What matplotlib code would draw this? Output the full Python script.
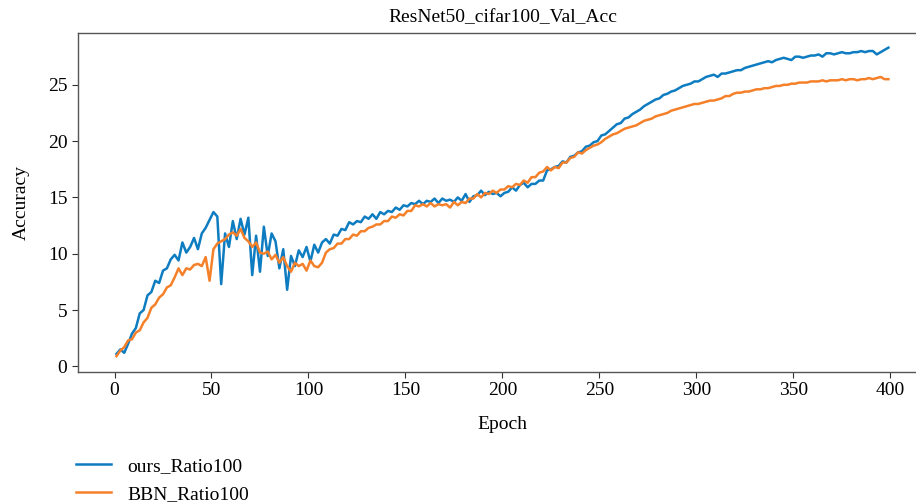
import numpy as np
import matplotlib
matplotlib.use("Agg")
import matplotlib.pyplot as plt

plt.rcParams['font.family'] = ['Liberation Serif', 'DejaVu Serif']

# 数据：每隔2个epoch读取一次
epochs = np.arange(1, 400, 2)

ours_ratio100 = [
    1.1, 1.5, 1.2, 2.0, 2.9, 3.4, 4.7, 5.0, 6.3, 6.6,
    7.6, 7.4, 8.5, 8.7, 9.5, 9.9, 9.4, 11.0, 10.1, 10.6,
    11.4, 10.4, 11.8, 12.3, 13.0, 13.7, 13.3, 7.3, 11.8, 10.6,
    12.9, 11.3, 13.1, 11.7, 13.2, 8.1, 11.6, 8.4, 12.4, 9.8,
    11.8, 11.1, 8.7, 10.4, 6.8, 9.8, 8.9, 10.3, 9.7, 10.6,
    9.3, 10.8, 10.1, 11.0, 11.3, 10.9, 11.7, 11.6, 12.2, 12.1,
    12.8, 12.6, 12.9, 12.8, 13.3, 13.1, 13.5, 13.1, 13.7, 13.5,
    13.8, 13.7, 14.1, 13.9, 14.3, 14.2, 14.5, 14.4, 14.7, 14.4,
    14.7, 14.6, 14.9, 14.5, 14.9, 14.7, 14.8, 14.6, 15.0, 14.7,
    15.3, 14.6, 15.1, 15.2, 15.6, 15.2, 15.5, 15.3, 15.4, 15.1,
    15.4, 15.5, 15.9, 15.6, 16.1, 16.3, 15.9, 16.2, 16.2, 16.5,
    16.5, 17.4, 17.5, 17.7, 17.8, 18.2, 18.1, 18.6, 18.7, 19.0,
    19.1, 19.5, 19.6, 19.9, 20.0, 20.5, 20.6, 20.9, 21.2, 21.5,
    21.6, 22.0, 22.1, 22.4, 22.6, 22.8, 23.1, 23.3, 23.5, 23.7,
    23.8, 24.1, 24.2, 24.4, 24.5, 24.7, 24.9, 25.0, 25.1, 25.3,
    25.3, 25.5, 25.7, 25.8, 25.9, 25.7, 26.0, 26.0, 26.1, 26.2,
    26.3, 26.3, 26.5, 26.6, 26.7, 26.8, 26.9, 27.0, 27.1, 27.0,
    27.2, 27.3, 27.4, 27.3, 27.2, 27.5, 27.5, 27.4, 27.5, 27.6,
    27.6, 27.7, 27.5, 27.8, 27.8, 27.7, 27.8, 27.9, 27.8, 27.8,
    27.9, 27.9, 28.0, 27.9, 28.0, 28.0, 27.7, 27.9, 28.1, 28.3,
]

bbn_ratio100 = [
    0.9, 1.4, 1.7, 2.3, 2.4, 3.0, 3.2, 3.9, 4.3, 5.2,
    5.5, 6.1, 6.4, 7.0, 7.2, 7.9, 8.7, 8.1, 8.7, 8.6,
    9.0, 9.1, 8.9, 9.7, 7.6, 10.4, 10.9, 11.1, 11.3, 11.7,
    11.9, 11.6, 12.2, 11.4, 11.1, 10.6, 11.0, 10.1, 10.0, 10.2,
    9.5, 9.9, 9.2, 9.7, 8.9, 8.4, 9.2, 8.9, 9.1, 8.5,
    9.4, 8.9, 8.8, 9.2, 10.1, 10.4, 10.5, 10.9, 10.9, 11.3,
    11.3, 11.7, 11.6, 12.0, 12.0, 12.3, 12.4, 12.6, 12.6, 12.9,
    12.9, 13.3, 13.2, 13.5, 13.4, 13.8, 13.8, 14.3, 14.2, 14.4,
    14.2, 14.5, 14.2, 14.4, 14.3, 14.4, 14.1, 14.6, 14.3, 14.6,
    14.5, 14.9, 14.9, 15.3, 15.0, 15.4, 15.3, 15.6, 15.4, 15.7,
    15.7, 16.0, 15.9, 16.2, 16.1, 16.5, 16.3, 16.8, 16.8, 17.2,
    17.3, 17.7, 17.4, 17.7, 17.6, 18.1, 18.1, 18.5, 18.6, 19.0,
    18.9, 19.2, 19.4, 19.6, 19.7, 19.9, 20.2, 20.4, 20.6, 20.7,
    20.9, 21.1, 21.2, 21.3, 21.4, 21.6, 21.8, 21.9, 22.0, 22.2,
    22.3, 22.4, 22.5, 22.7, 22.8, 22.9, 23.0, 23.1, 23.2, 23.3,
    23.3, 23.4, 23.5, 23.6, 23.6, 23.7, 23.8, 24.0, 24.0, 24.2,
    24.3, 24.3, 24.4, 24.4, 24.5, 24.6, 24.6, 24.7, 24.7, 24.8,
    24.9, 24.9, 25.0, 25.0, 25.1, 25.1, 25.2, 25.2, 25.2, 25.3,
    25.3, 25.3, 25.4, 25.3, 25.4, 25.4, 25.4, 25.5, 25.4, 25.5,
    25.5, 25.4, 25.5, 25.5, 25.6, 25.5, 25.6, 25.7, 25.5, 25.5,
]

series_names = ['ours_Ratio100', 'BBN_Ratio100']
series_colors = ['#0e7cc1', '#f5802a']

fig = plt.figure(figsize=(9.16, 5.04), dpi=100)
ax = fig.add_axes([0.085, 0.262, 0.927, 0.6725])

ax.plot(epochs, ours_ratio100, color=series_colors[0], lw=1.8, label=series_names[0])
ax.plot(epochs, bbn_ratio100, color=series_colors[1], lw=1.8, label=series_names[1])

ax.set_xlim(-18.9, 418.9)
ax.set_ylim(-0.5, 29.6)
ax.set_xticks(np.arange(0, 401, 50))
ax.set_yticks(np.arange(0, 26, 5))
ax.tick_params(labelsize=14, length=4, width=0.8, color='#333333')
for s in ax.spines.values():
    s.set_color('#555555')
    s.set_linewidth(1.0)

ax.set_title('ResNet50_cifar100_Val_Acc', fontsize=14, pad=8)
ax.set_xlabel('Epoch', fontsize=14, labelpad=12)
ax.set_ylabel('Accuracy', fontsize=14, labelpad=13)

fig.legend(loc='upper left', bbox_to_anchor=(0.075, 0.108), frameon=False,
           fontsize=14, handlelength=1.8, labelspacing=0.55, borderaxespad=0)

fig.savefig('out.png', dpi=100)
